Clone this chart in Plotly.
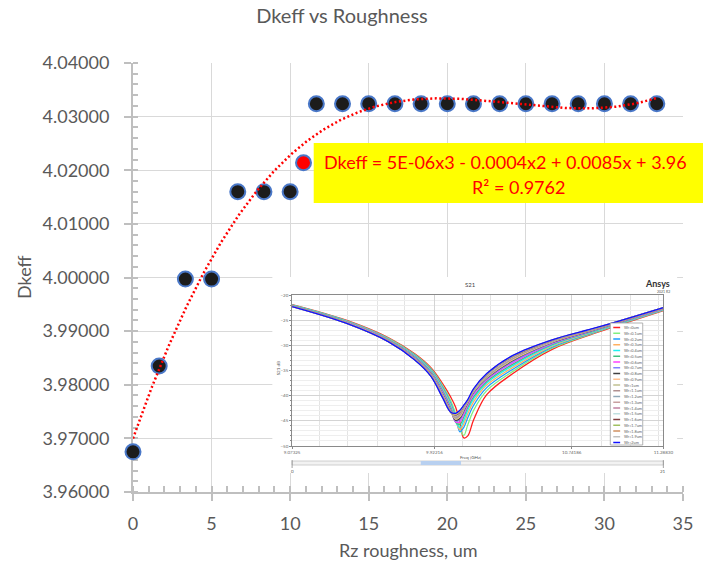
import numpy as np
import plotly.graph_objects as go

# ---------------- main series ----------------
rz_um = [0.0, 1.667, 3.333, 5.0, 6.667, 8.333, 10.0, 11.667, 13.333, 15.0, 16.667,
         18.333, 20.0, 21.667, 23.333, 25.0, 26.667, 28.333, 30.0, 31.667, 33.333]
dkeff = [3.9675, 3.9835, 3.9997, 3.9997, 4.0160, 4.0160, 4.0160, 4.0324, 4.0324, 4.0324,
         4.0324, 4.0324, 4.0324, 4.0324, 4.0324, 4.0324, 4.0324, 4.0324, 4.0324, 4.0324, 4.0324]
# highlighted sample
rz_hl = [10.85]
dkeff_hl = [4.0214]

fit_label = "Dkeff = 5E-06x3 - 0.0004x2 + 0.0085x + 3.96"
r2_label = "R² = 0.9762"

# ---------------- S21 inset (Ansys sweep) ----------------
freq_ghz = [9.07325, 9.39526, 9.64897, 9.80510, 9.90268, 9.97098, 10.01977, 10.04905,
            10.07442, 10.09783, 10.12125, 10.15638, 10.23445, 10.39057, 10.62476,
            10.89799, 11.28830]
s21_db = [
    [-21.9, -25.0, -28.5, -31.7, -34.5, -37.6, -40.3, -42.3, -45.3, -48.4, -48.0, -44.8, -39.8, -35.6, -30.8, -27.4, -23.1],
    [-21.95, -25.07, -28.6, -31.84, -34.7, -38.0, -41.0, -43.6, -46.5, -47.9, -45.8, -42.9, -39.0, -35.17, -30.57, -27.28, -23.03],
    [-22.0, -25.14, -28.69, -31.99, -34.91, -38.3, -41.5, -44.3, -47.2, -46.3, -44.4, -41.9, -38.4, -34.74, -30.34, -27.16, -22.96],
    [-22.04, -25.2, -28.77, -32.11, -35.08, -38.6, -41.9, -44.8, -46.8, -45.6, -43.6, -41.2, -37.9, -34.38, -30.15, -27.06, -22.9],
    [-22.08, -25.26, -28.85, -32.23, -35.25, -38.9, -42.2, -45.2, -46.3, -44.9, -42.9, -40.6, -37.5, -34.02, -29.96, -26.96, -22.84],
    [-22.11, -25.31, -28.92, -32.32, -35.38, -39.1, -42.5, -45.3, -45.7, -44.2, -42.3, -40.2, -37.2, -33.73, -29.81, -26.88, -22.79],
    [-22.14, -25.36, -28.98, -32.42, -35.52, -39.3, -42.7, -45.2, -45.2, -43.7, -41.9, -39.8, -36.9, -33.44, -29.66, -26.8, -22.74],
    [-22.16, -25.4, -29.03, -32.49, -35.62, -39.5, -42.9, -45.0, -44.8, -43.3, -41.6, -39.5, -36.7, -33.22, -29.55, -26.74, -22.7],
    [-22.19, -25.43, -29.08, -32.56, -35.72, -39.7, -43.0, -44.9, -44.5, -43.0, -41.4, -39.3, -36.5, -33.01, -29.43, -26.68, -22.67],
    [-22.2, -25.46, -29.11, -32.61, -35.79, -39.8, -43.1, -44.7, -44.2, -42.8, -41.3, -39.2, -36.4, -32.86, -29.36, -26.64, -22.64],
    [-22.22, -25.48, -29.14, -32.66, -35.86, -39.9, -43.2, -44.6, -44.0, -42.6, -41.2, -39.1, -36.3, -32.72, -29.28, -26.6, -22.62],
    [-22.23, -25.5, -29.16, -32.7, -35.91, -40.0, -43.2, -44.4, -43.8, -42.5, -41.1, -39.0, -36.2, -32.61, -29.22, -26.57, -22.6],
    [-22.24, -25.52, -29.19, -32.73, -35.96, -40.05, -43.25, -44.3, -43.7, -42.4, -41.1, -39.0, -36.1, -32.5, -29.17, -26.54, -22.58],
    [-22.25, -25.53, -29.2, -32.76, -36.0, -40.1, -43.3, -44.2, -43.6, -42.3, -41.0, -38.9, -36.0, -32.43, -29.13, -26.52, -22.57],
    [-22.26, -25.54, -29.22, -32.78, -36.03, -40.15, -43.3, -44.1, -43.5, -42.2, -41.0, -38.9, -35.95, -32.36, -29.09, -26.5, -22.56],
    [-22.27, -25.55, -29.24, -32.8, -36.06, -40.2, -43.3, -44.0, -43.4, -42.2, -41.0, -38.9, -35.9, -32.29, -29.05, -26.48, -22.55],
    [-22.28, -25.56, -29.25, -32.83, -36.1, -40.25, -43.3, -43.9, -43.3, -42.1, -41.0, -38.8, -35.8, -32.22, -29.01, -26.46, -22.54],
    [-22.28, -25.58, -29.27, -32.85, -36.13, -40.3, -43.3, -43.8, -43.2, -42.0, -40.95, -38.8, -35.75, -32.14, -28.98, -26.44, -22.52],
    [-22.29, -25.58, -29.28, -32.86, -36.15, -40.3, -43.3, -43.7, -43.1, -42.0, -40.95, -38.75, -35.7, -32.11, -28.96, -26.43, -22.52],
    [-22.29, -25.59, -29.29, -32.88, -36.17, -40.35, -43.3, -43.6, -43.0, -41.95, -40.9, -38.7, -35.65, -32.05, -28.93, -26.42, -22.51],
    [-22.3, -25.6, -29.3, -32.9, -36.2, -40.4, -43.3, -43.5, -42.9, -41.9, -40.8, -38.6, -35.6, -32.0, -28.9, -26.4, -22.5],
]
sweep_names = ["Wr=0um", "Wr=0.1um", "Wr=0.2um", "Wr=0.3um", "Wr=0.4um", "Wr=0.5um",
               "Wr=0.6um", "Wr=0.7um", "Wr=0.8um", "Wr=0.9um", "Wr=1um", "Wr=1.1um",
               "Wr=1.2um", "Wr=1.3um", "Wr=1.4um", "Wr=1.5um", "Wr=1.6um", "Wr=1.7um",
               "Wr=1.8um", "Wr=1.9um", "Wr=2um"]
sweep_colors = ["#ff2020", "#80f080", "#1e9bff", "#ffb060", "#20f0f0", "#40c080",
                "#ff40ff", "#8080ff", "#404040", "#ffc090", "#c0c090", "#b09090",
                "#90a8b8", "#c8a0a0", "#c080a0", "#c0e0e0", "#804040", "#a0c060",
                "#d09060", "#c0c0c0", "#1010ff"]
freq_tick_vals = [9.07325, 9.92216, 10.74186, 11.28830]
freq_grid_vals = [9.2391, 9.4050, 9.5807, 9.7465, 9.9222, 10.0881, 10.2540, 10.4199,
                  10.5858, 10.7419, 10.9175, 11.0932, 11.2591]

FONT = "Lato"
GREY = "#595959"

# plot area in pixels: x 133..693, y 63..492
L, R, T, B = 133, 693, 63, 492
W, H = 703, 565


def px(x):
    return (x - L) / (R - L)


def py(y):
    return (B - y) / (B - T)


fig = go.Figure()

fig.add_trace(go.Scatter(
    x=rz_um, y=dkeff, mode="markers", cliponaxis=False,
    marker=dict(size=15, color="#1c1c1c", line=dict(color="#4a78c8", width=2)),
))
fig.add_trace(go.Scatter(
    x=rz_hl, y=dkeff_hl, mode="markers", cliponaxis=False,
    marker=dict(size=15, color="#ff0000", line=dict(color="#4a78c8", width=2)),
))

# cubic polynomial trend line fitted to all samples
fit_x = np.array(rz_um + rz_hl)
fit_y = np.array(dkeff + dkeff_hl)
coef = np.polyfit(fit_x, fit_y, 3)
tx = np.linspace(0, max(rz_um), 300)
fig.add_trace(go.Scatter(
    x=tx, y=np.polyval(coef, tx), mode="lines", cliponaxis=False,
    line=dict(color="#ff0000", width=2.5, dash="2px,2.5px"),
))

# white backing for the inset picture (its own subplot so it hides the main grid)
fig.add_trace(go.Scatter(x=[], y=[], xaxis="x2", yaxis="y2"))

for name, col, vals in zip(sweep_names, sweep_colors, s21_db):
    fig.add_trace(go.Scatter(
        x=freq_ghz, y=vals, mode="lines", name=name, xaxis="x3", yaxis="y3",
        line=dict(color=col, width=1.3, shape="spline", smoothing=1.0),
    ))

axis_common = dict(
    showgrid=True, gridcolor="#d9d9d9", gridwidth=1.3,
    showline=True, linecolor="#bfbfbf", linewidth=2,
    ticks="outside", ticklen=7, tickwidth=1.5, tickcolor="#bfbfbf",
    zeroline=False, layer="below traces",
    tickfont=dict(family=FONT, size=18, color=GREY),
)

fig.update_layout(
    width=W, height=H,
    margin=dict(l=L, r=W - R, t=T, b=H - B),
    paper_bgcolor="white", plot_bgcolor="white",
    showlegend=False,
    font=dict(family=FONT, color=GREY),
    title=dict(text="Dkeff vs Roughness", x=342 / W, xanchor="center",
               y=1 - 16 / H, yanchor="middle",
               font=dict(family=FONT, size=20, color=GREY)),
    xaxis=dict(range=[0, 35], tick0=0, dtick=5, ticklabelstandoff=7,
               minor=dict(dtick=1, ticks="inside", ticklen=6, tickcolor="#bfbfbf",
                          tickwidth=1.5, showgrid=False),
               **axis_common),
    yaxis=dict(range=[3.96, 4.04], tick0=3.96, dtick=0.01, tickformat=".5f",
               ticklabelstandoff=11,
               minor=dict(dtick=0.002, ticks="inside", ticklen=5, tickcolor="#bfbfbf",
                          tickwidth=1.5, showgrid=False),
               **axis_common),
    xaxis2=dict(domain=[px(275), px(687)], anchor="y2", range=[0, 1], visible=False),
    yaxis2=dict(domain=[py(473), py(277)], anchor="x2", range=[0, 1], visible=False),
    xaxis3=dict(domain=[px(295), px(673)], anchor="y3",
                range=[freq_ghz[0], freq_ghz[-1]],
                tickvals=freq_tick_vals, ticktext=[f"{v:.5f}" for v in freq_tick_vals],
                tickfont=dict(family=FONT, size=4.5, color="#666666"),
                showgrid=True, gridcolor="#d4d4d4", gridwidth=0.7,
                minor=dict(tickmode="array", tickvals=freq_grid_vals, showgrid=True,
                           gridcolor="#e4e4e4", gridwidth=0.7),
                showline=True, linecolor="#8a8a8a", linewidth=0.8, mirror=True,
                ticks="outside", ticklen=2, tickcolor="#8a8a8a", zeroline=False),
    yaxis3=dict(domain=[py(446), py(295)], anchor="x3", range=[-50, -20],
                dtick=5, tickfont=dict(family=FONT, size=4.5, color="#666666"),
                showgrid=True, gridcolor="#d4d4d4", gridwidth=0.7,
                minor=dict(dtick=1, showgrid=True, gridcolor="#eeeeee", gridwidth=0.6,
                           ticks="outside", ticklen=1.5, tickcolor="#8a8a8a"),
                showline=True, linecolor="#8a8a8a", linewidth=0.8, mirror=True,
                ticks="outside", ticklen=2, tickcolor="#8a8a8a", zeroline=False),
)

shapes = [
    # inset backing
    dict(type="rect", xref="x2", yref="y2", x0=0, x1=1, y0=0, y1=1,
         fillcolor="white", line=dict(width=0), layer="below"),
    # trend-line label box
    dict(type="rect", xref="paper", yref="paper", x0=px(317), x1=px(730),
         y0=py(203), y1=py(143), fillcolor="#ffff00", line=dict(width=0), layer="above"),
    # inset sweep slider
    dict(type="rect", xref="paper", yref="paper", x0=px(295), x1=px(673),
         y0=py(465), y1=py(461), fillcolor="#f2f2f2",
         line=dict(color="#c4c4c4", width=0.8), layer="above"),
    dict(type="rect", xref="paper", yref="paper", x0=px(426), x1=px(467),
         y0=py(465), y1=py(461), fillcolor="#b8d0f0", line=dict(width=0), layer="above"),
    dict(type="line", xref="paper", yref="paper", x0=px(295), x1=px(295),
         y0=py(460), y1=py(468), line=dict(color="#8a8a8a", width=0.8), layer="above"),
    dict(type="line", xref="paper", yref="paper", x0=px(673), x1=px(673),
         y0=py(460), y1=py(468), line=dict(color="#8a8a8a", width=0.8), layer="above"),
    # inset legend frame
    dict(type="rect", xref="paper", yref="paper", x0=px(619), x1=px(652),
         y0=py(445), y1=py(323), fillcolor="white",
         line=dict(color="#a0a0a0", width=0.8), layer="above"),
]

annotations = [
    dict(text="Rz roughness, um", xref="paper", yref="paper", x=px(413), y=py(550),
         xanchor="center", yanchor="middle", showarrow=False,
         font=dict(family=FONT, size=18, color=GREY)),
    dict(text="Dkeff", xref="paper", yref="paper", x=px(22), y=py(277), textangle=-90,
         xanchor="center", yanchor="middle", showarrow=False,
         font=dict(family=FONT, size=18, color=GREY)),
    dict(text=fit_label, xref="paper", yref="paper", x=px(325), y=py(162),
         xanchor="left", yanchor="middle", showarrow=False,
         font=dict(family=FONT, size=18, color="#ff0000")),
    dict(text=r2_label, xref="paper", yref="paper", x=px(525), y=py(187),
         xanchor="center", yanchor="middle", showarrow=False,
         font=dict(family=FONT, size=18, color="#ff0000")),
    # inset texts
    dict(text="S21", xref="paper", yref="paper", x=px(477), y=py(284),
         xanchor="center", yanchor="middle", showarrow=False,
         font=dict(family=FONT, size=6, color="#444444")),
    dict(text="<b>Ansys</b>", xref="paper", yref="paper", x=px(682), y=py(283),
         xanchor="right", yanchor="middle", showarrow=False,
         font=dict(family=FONT, size=9, color="#333333")),
    dict(text="2021 R2", xref="paper", yref="paper", x=px(682), y=py(292),
         xanchor="right", yanchor="middle", showarrow=False,
         font=dict(family=FONT, size=3.5, color="#555555")),
    dict(text="S21 dB", xref="paper", yref="paper", x=px(281), y=py(368), textangle=-90,
         xanchor="center", yanchor="middle", showarrow=False,
         font=dict(family=FONT, size=4.5, color="#555555")),
    dict(text="Freq [GHz]", xref="paper", yref="paper", x=px(477), y=py(457),
         xanchor="center", yanchor="middle", showarrow=False,
         font=dict(family=FONT, size=4.5, color="#555555")),
    dict(text="0", xref="paper", yref="paper", x=px(295), y=py(471),
         xanchor="center", yanchor="middle", showarrow=False,
         font=dict(family=FONT, size=4.5, color="#555555")),
    dict(text="21", xref="paper", yref="paper", x=px(673), y=py(471),
         xanchor="center", yanchor="middle", showarrow=False,
         font=dict(family=FONT, size=4.5, color="#555555")),
]

# inset legend entries
for k, (name, col) in enumerate(zip(sweep_names, sweep_colors)):
    yk = 327.5 + k * 5.75
    shapes.append(dict(type="line", xref="paper", yref="paper", x0=px(622), x1=px(629),
                       y0=py(yk), y1=py(yk), line=dict(color=col, width=1.5),
                       layer="above"))
    annotations.append(dict(text=name, xref="paper", yref="paper", x=px(631), y=py(yk),
                            xanchor="left", yanchor="middle", showarrow=False,
                            font=dict(family=FONT, size=3.8, color="#606060")))

fig.update_layout(shapes=shapes, annotations=annotations)

fig.write_html("out.html")
